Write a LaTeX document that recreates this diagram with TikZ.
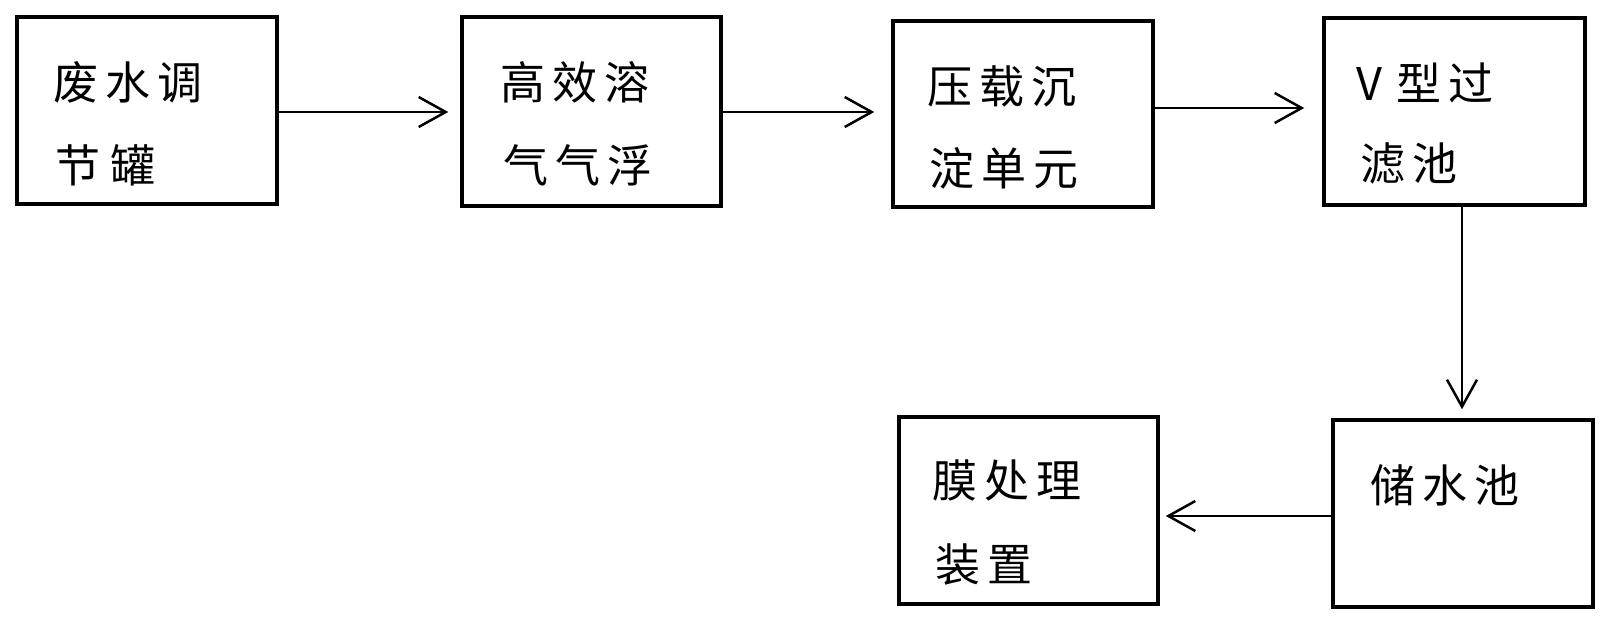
\documentclass[tikz,border=0pt]{standalone}
\usepackage{fontspec}
\newfontfamily\cjk{Noto Sans CJK SC}
\usetikzlibrary{arrows.meta}
\newcommand\gp{\hspace{7pt}}
\tikzset{
  box/.style={draw, line width=3.5pt, inner sep=0pt},
  txt/.style={anchor=west, inner sep=0pt, font=\cjk\fontsize{45}{45}\selectfont},
  arr/.style={line width=2.2pt, -{Straight Barb[length=27pt,width=30pt,line width=2.5pt]}},
}
\begin{document}
\begin{tikzpicture}[x=1pt,y=-1pt]
\useasboundingbox (0,0) rectangle (1610,624);
\node[box, minimum width=260pt, minimum height=187pt] (b1) at (147,110.5) {};
\node[box, minimum width=259pt, minimum height=189pt] (b2) at (591.5,111.5) {};
\node[box, minimum width=260pt, minimum height=186pt] (b3) at (1023,114) {};
\node[box, minimum width=261pt, minimum height=187pt] (b4) at (1454.5,111.5) {};
\node[box, minimum width=260pt, minimum height=187pt] (b5) at (1463,513.5) {};
\node[box, minimum width=259pt, minimum height=187pt] (b6) at (1028.5,510.5) {};

\node[txt] (t1a) at (53,82) {废\gp 水\gp 调};
\node[txt] (t1b) at (55,165) {节\hspace{10pt}罐};
\node[txt] (t2a) at (500,82) {高\gp 效\gp 溶};
\node[txt] (t2b) at (503,165) {气\gp 气\gp 浮};
\node[txt] (t3a) at (927,86) {压\gp 载\gp 沉};
\node[txt] (t3b) at (929,168) {淀\gp 单\gp 元};
\node[txt] (t4a) at (1356,83) {V\hspace{14pt}型\gp 过};
\node[txt] (t4b) at (1360,164) {滤\gp 池};
\node[txt] (t6a) at (932,480) {膜\gp 处\gp 理};
\node[txt] (t6b) at (935,565) {装\gp 置};
\node[txt] (t5) at (1370,485) {储\gp 水\gp 池};

\draw[arr, shorten >=12pt] (b1.east |- 0,112) -- (b2.west |- 0,112);
\draw[arr, shorten >=17pt] (b2.east |- 0,112) -- (b3.west |- 0,112);
\draw[arr, shorten >=18pt] (b3.east |- 0,108) -- (b4.west |- 0,108);
\draw[arr, shorten >=9pt] (b4.south -| 1462,0) -- (b5.north -| 1462,0);
\draw[arr, shorten >=6pt] (b5.west |- 0,516) -- (b6.east |- 0,516);
\end{tikzpicture}
\end{document}
